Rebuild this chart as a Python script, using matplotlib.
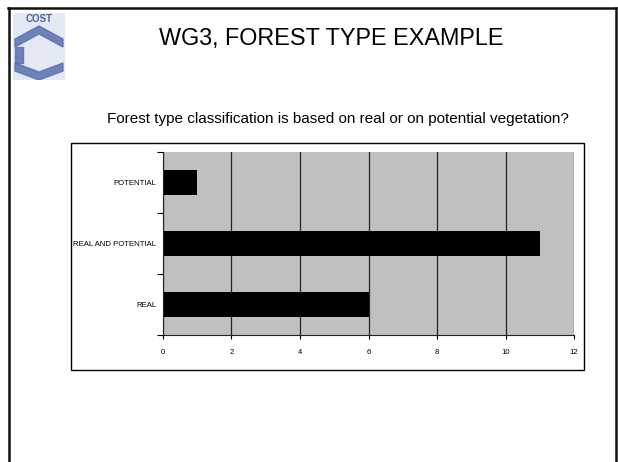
import matplotlib
matplotlib.use("Agg")
import matplotlib.pyplot as plt
from matplotlib.patches import Rectangle, Polygon
from matplotlib.lines import Line2D

categories = ["REAL", "REAL AND POTENTIAL", "POTENTIAL"]
values = [6, 11, 1]
xticks = [0, 2, 4, 6, 8, 10, 12]

W, H = 618, 462
fig = plt.figure(figsize=(W / 100, H / 100), dpi=100)
fig.patch.set_facecolor("white")

def fx(x):
    return x / W

def fy(y):
    return 1 - y / H

# slide border
for (x0, y0, x1, y1) in [(8, 8, 616, 8), (8.5, 8, 8.5, 462), (616, 8, 616, 462)]:
    fig.add_artist(Line2D([fx(x0), fx(x1)], [fy(y0), fy(y1)], color="#111111", lw=1.8))

# logo approximation
logo = fig.add_axes([fx(13), fy(80), fx(52), (80 - 13) / H])
logo.set_xlim(0, 52)
logo.set_ylim(67, 0)
logo.axis("off")
logo.add_patch(Rectangle((0, 0), 52, 67, color="#e4e8f2"))
logo.text(26, 6, "COST", ha="center", va="center", fontsize=7, fontweight="bold",
          color="#4a5f9e", family="Liberation Sans")
logo.add_patch(Polygon([(2, 26), (26, 13), (50, 26), (50, 34), (26, 21), (2, 34)],
                       closed=True, color="#5a6fae", alpha=0.85))
logo.add_patch(Polygon([(2, 50), (2, 58), (26, 67), (50, 58), (50, 50), (26, 59)],
                       closed=True, color="#5a6fae", alpha=0.85))
logo.add_patch(Rectangle((2, 34), 8, 16, color="#5a6fae", alpha=0.85))

# titles
fig.text(fx(331), fy(38), "WG3, FOREST TYPE EXAMPLE", ha="center", va="center",
         fontsize=16.8, family="Liberation Sans", color="black")
fig.text(fx(107), fy(119), "Forest type classification is based on real or on potential vegetation?",
         ha="left", va="center", fontsize=11.0, family="Liberation Sans", color="black")

# chart box
fig.add_artist(Rectangle((fx(71), fy(370)), fx(584 - 71), (370 - 143) / H,
                         fill=False, edgecolor="black", lw=1.0))

ax = fig.add_axes([fx(163), fy(335), fx(574 - 163), (335 - 152) / H])
ax.set_facecolor("#c0c0c0")
ypos = list(range(len(categories)))
ax.barh(ypos, values, height=0.4, color="black", zorder=3)
ax.set_xlim(0, 12)
ax.set_ylim(-0.5, len(categories) - 0.5)
ax.set_xticks(xticks)
ax.set_xticklabels([str(v) for v in xticks])
ax.set_yticks(ypos)
ax.set_yticklabels(categories)
ax.set_yticks([-0.5 + i for i in range(len(categories) + 1)], minor=True)
ax.tick_params(axis="y", which="major", length=0, pad=5)
ax.tick_params(axis="y", which="minor", length=4, width=0.8, direction="out")
ax.tick_params(axis="x", length=3, width=0.8, pad=7)
for lab in ax.get_xticklabels() + ax.get_yticklabels():
    lab.set_family("Liberation Sans")
    lab.set_fontsize(5.6)
ax.grid(axis="x", color="#222222", lw=0.9, zorder=1)
for s in ["top", "right"]:
    ax.spines[s].set_visible(False)
ax.spines["left"].set_color("#222222")
ax.spines["bottom"].set_color("#222222")
ax.spines["left"].set_zorder(4)

fig.savefig("out.png", dpi=100)
